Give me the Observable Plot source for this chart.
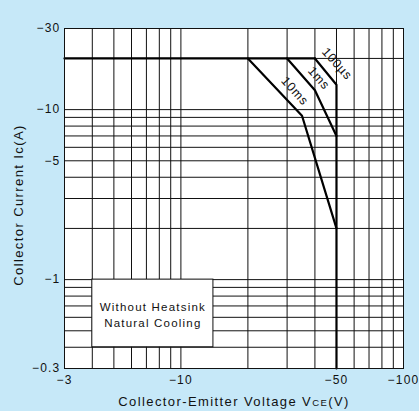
<!DOCTYPE html>
<html>
<head>
<meta charset="utf-8">
<script src="https://cdn.jsdelivr.net/npm/d3@7"></script>
<script src="https://cdn.jsdelivr.net/npm/@observablehq/plot@0.6"></script>
<style>
  html, body { margin: 0; padding: 0; background: #c6e8f8; }
  #chart { width: 419px; height: 411px; overflow: hidden; }
</style>
</head>
<body>
<div id="chart"></div>
<script>
// Data (magnitudes; axes show negative values)
const xTicks = [3, 10, 50, 100];
const yTicks = [30, 10, 5, 1, 0.3];
const xGrid = [4, 5, 6, 7, 8, 9, 10, 20, 30, 40, 50, 60, 70, 80, 90];
const yGrid = [0.4, 0.5, 0.6, 0.7, 0.8, 0.9, 1, 2, 3, 4, 5, 6, 7, 8, 9, 10, 20];

const limitX = [3, 40];
const limitY = [20, 20];
const ms10X = [20, 35, 50];
const ms10Y = [20, 9.2, 2];
const ms1X = [30, 40, 50];
const ms1Y = [20, 13, 7];
const us100X = [40, 50, 50];
const us100Y = [20, 14, 0.3];

const curveNames = ["10ms", "1ms", "100µs"];
const curveLabelX = [32, 41, 49.5];
const curveLabelY = [12.6, 15.0, 18.2];

const noteText = ["Without Heatsink", "Natural Cooling"];
const noteBox = {x1: 4, x2: 14, y1: 0.4, y2: 1};

const toPts = (xs, ys) => xs.map((x, i) => ({x, y: ys[i]}));
const curves = [toPts(limitX, limitY), toPts(ms10X, ms10Y), toPts(ms1X, ms1Y), toPts(us100X, us100Y)];
const labels = curveNames.map((t, i) => ({t, x: curveLabelX[i], y: curveLabelY[i]}));
const minus = d => "\u2212" + d;

const plot = Plot.plot({
  width: 419,
  height: 411,
  marginLeft: 64,
  marginRight: 16,
  marginTop: 28,
  marginBottom: 43,
  style: {background: "transparent", fontFamily: "Liberation Sans, Arial, sans-serif", fontSize: "12px", letterSpacing: "1.2px", color: "#111"},
  x: {type: "log", domain: [3, 100]},
  y: {type: "log", domain: [0.3, 30]},
  marks: [
    Plot.frame({fill: "white"}),
    Plot.ruleX(xGrid, {stroke: "#111", strokeWidth: 1}),
    Plot.ruleY(yGrid, {stroke: "#111", strokeWidth: 1}),
    Plot.rect([noteBox], {x1: "x1", x2: "x2", y1: "y1", y2: "y2", fill: "white", stroke: "#111", strokeWidth: 1}),
    Plot.text([noteText.join("\n")], {x: Math.sqrt(noteBox.x1 * noteBox.x2), y: Math.sqrt(noteBox.y1 * noteBox.y2), text: d => d, fontSize: 11.5, lineHeight: 1.4, fill: "#111", textAnchor: "middle"}),
    ...curves.map(c => Plot.line(c, {x: "x", y: "y", stroke: "#000", strokeWidth: 2.2, strokeLinejoin: "miter"})),
    Plot.text(labels, {x: "x", y: "y", text: "t", rotate: 48, fontSize: 12.5, fill: "#111", dx: 1.5, dy: -1.5}),
    Plot.frame({stroke: "#111", strokeWidth: 1}),
    Plot.axisX({ticks: xTicks, tickSize: 0, tickPadding: 7, tickFormat: minus, label: null, fontSize: 12}),
    Plot.axisY({ticks: yTicks, tickSize: 0, tickPadding: 4, tickFormat: minus, label: null, fontSize: 12})
  ]
});

document.getElementById("chart").appendChild(plot);
const svg = d3.select(plot);
svg.selectAll("text").filter(function() { return this.textContent && /ms|µs/.test(this.textContent); }).style("letter-spacing", "0.8px");

const xl = svg.append("text")
  .attr("x", 234).attr("y", 406)
  .attr("text-anchor", "middle")
  .attr("fill", "#111")
  .style("font-size", "13px").style("letter-spacing", "1.4px");
xl.append("tspan").text("Collector-Emitter Voltage V");
xl.append("tspan").style("font-size", "9.5px").text("CE");
xl.append("tspan").text("(V)");

svg.append("text")
  .attr("transform", "translate(18,205) rotate(-90)")
  .attr("text-anchor", "middle")
  .attr("dominant-baseline", "central")
  .attr("fill", "#111")
  .style("font-size", "13px").style("letter-spacing", "1.4px")
  .text("Collector Current Ic(A)");
</script>
</body>
</html>
